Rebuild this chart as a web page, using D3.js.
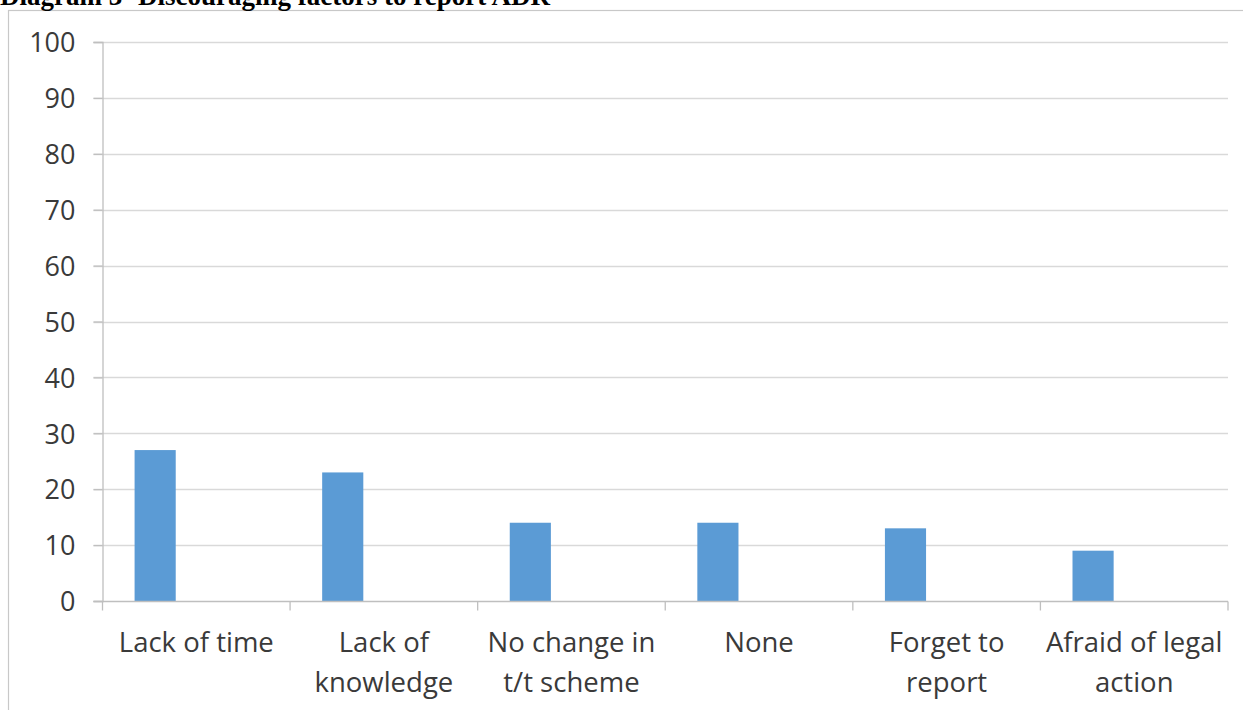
<!DOCTYPE html>
<html><head><meta charset="utf-8">
<script src="https://cdn.jsdelivr.net/npm/d3@7"></script>
<style>
html,body{margin:0;padding:0;background:#fff;overflow:hidden;}
</style></head>
<body>
<svg id="chart" width="1243" height="710"></svg>
<script>
const title = "Diagram 3- Discouraging factors to report ADR";
const categories = ["Lack of time", "Lack of knowledge", "No change in t/t scheme", "None", "Forget to report", "Afraid of legal action"];
const categoryLines = [["Lack of time"], ["Lack of", "knowledge"], ["No change in", "t/t scheme"], ["None"], ["Forget to", "report"], ["Afraid of legal", "action"]];
const values = [27, 23, 14, 14, 13, 9];
const yTicks = [0, 10, 20, 30, 40, 50, 60, 70, 80, 90, 100];
const slots = ["s1", "s2", "s3"]; // clustered slots; only the first carries data

const svg = d3.select("#chart");
const W = 1243, H = 710;
const plot = {left: 102.5, right: 1228, top: 42, bottom: 601};
const font = "'Open Sans', 'Noto Sans', sans-serif";
const textColor = "#3a3a3a";

// outer chart frame
svg.append("rect").attr("x", 8.5).attr("y", 10.5).attr("width", W + 20).attr("height", H + 20)
  .attr("fill", "none").attr("stroke", "#c8c8c8").attr("stroke-width", 1.2);

// title (partially clipped at top, as in the source)
svg.append("text").attr("x", 0).attr("y", 5).text(title)
  .attr("font-family", "'Liberation Serif', 'Times New Roman', serif")
  .attr("font-weight", "bold").attr("font-size", 27).attr("fill", "#000");

const x = d3.scaleBand().domain(categories).range([plot.left, plot.right]).paddingInner(0).paddingOuter(0);
const x1 = d3.scaleBand().domain(slots).range([0, x.bandwidth()]).paddingInner(0).paddingOuter(0.78);
const y = d3.scaleLinear().domain([0, 100]).range([plot.bottom, plot.top]);

// gridlines
svg.append("g").selectAll("line").data(yTicks.filter(d => d > 0)).join("line")
  .attr("x1", plot.left - 9).attr("x2", plot.right)
  .attr("y1", d => Math.round(y(d)) + 0.5).attr("y2", d => Math.round(y(d)) + 0.5)
  .attr("stroke", "#d9d9d9").attr("stroke-width", 1.3);

// y axis
const yAxis = svg.append("g").attr("transform", `translate(${plot.left},0)`)
  .call(d3.axisLeft(y).tickValues(yTicks).tickSize(9).tickPadding(18));
yAxis.select(".domain").attr("stroke", "#bfbfbf").attr("stroke-width", 1.3);
yAxis.selectAll(".tick line").attr("stroke", "#bfbfbf").attr("stroke-width", 1.3);
yAxis.selectAll(".tick text").attr("font-family", font).attr("font-size", 27).attr("fill", textColor)
  .attr("dy", "0.36em");

// bars
svg.append("g").selectAll("rect").data(values).join("rect")
  .attr("x", (d, i) => x(categories[i]) + x1("s1"))
  .attr("width", x1.bandwidth())
  .attr("y", d => y(d)).attr("height", d => y(0) - y(d))
  .attr("fill", "#5b9bd5");

// x axis
const xg = svg.append("g").attr("transform", `translate(0,${plot.bottom + 0.5})`);
xg.append("line").attr("x1", plot.left - 9).attr("x2", plot.right)
  .attr("stroke", "#bfbfbf").attr("stroke-width", 1.3);
const bounds = categories.map(c => x(c)).concat([x.range()[1]]);
xg.selectAll("line.tk").data(bounds).join("line").attr("class", "tk")
  .attr("x1", d => d).attr("x2", d => d).attr("y1", 0).attr("y2", 9)
  .attr("stroke", "#bfbfbf").attr("stroke-width", 1.3);

const lbl = svg.append("g").selectAll("text").data(categoryLines).join("text")
  .attr("font-family", font).attr("font-size", 27.5).attr("fill", textColor)
  .attr("text-anchor", "middle");
lbl.each(function(lines, i) {
  const cx = x(categories[i]) + x.bandwidth() / 2;
  d3.select(this).selectAll("tspan").data(lines).join("tspan")
    .attr("x", cx).attr("y", (d, j) => 652 + j * 40).text(d => d);
});
</script>
</body></html>
